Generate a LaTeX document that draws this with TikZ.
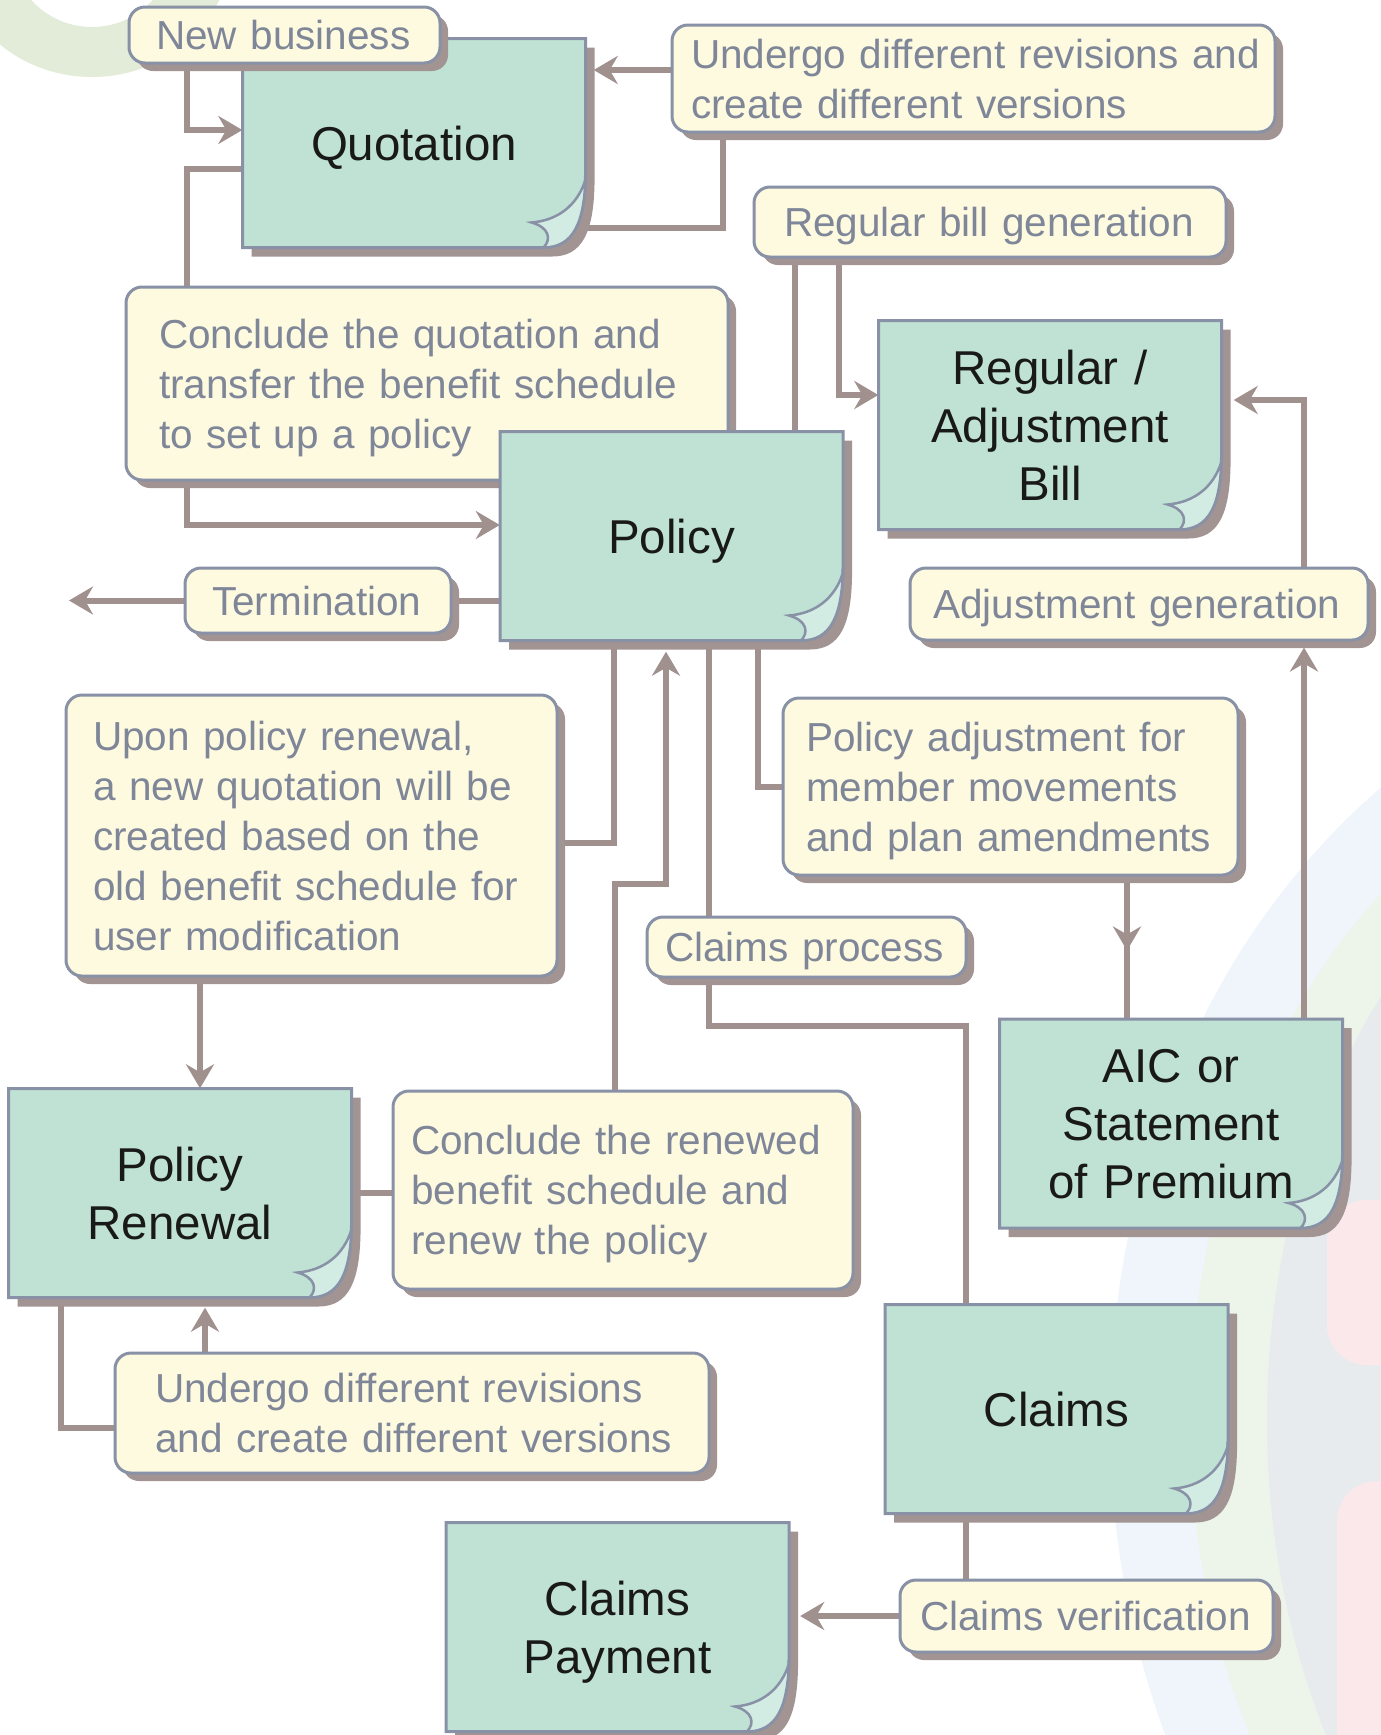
\documentclass[tikz,border=0pt]{standalone}
\usepackage{fontspec}
\setmainfont{Liberation Sans}
\usetikzlibrary{arrows.meta, calc, shadows, decorations.markings}
\definecolor{linec}{HTML}{A0918E}
\definecolor{shadowc}{HTML}{A29492}
\definecolor{edgec}{HTML}{8891A5}
\definecolor{notec}{HTML}{FDFAE0}
\definecolor{notetext}{HTML}{7E8698}
\definecolor{sheetc}{HTML}{BFE2D5}
\definecolor{curlc}{HTML}{D3ECE3}
\definecolor{ringc}{HTML}{E2ECD9}
\definecolor{skyc}{HTML}{EFF5FA}
\definecolor{mintc}{HTML}{EDF4EA}
\definecolor{greyc}{HTML}{E8EBEE}
\definecolor{pinkc}{HTML}{FBE8EB}
\pgfdeclarelayer{bg}
\pgfdeclarelayer{lines}
\pgfsetlayers{bg,lines,main}

\newcommand\sheet[3]{%
  \begin{scope}[shift={(#2)}]
    \fill[shadowc] (-162.5,-95.5) -- (180.5,-95.5) -- (180.5,41.5) .. controls (179.5,88.5) and (168.5,113.5) .. (138.5,113.5) -- (-162.5,113.5) -- cycle;
    \filldraw[fill=sheetc, draw=edgec, line width=3pt] (-171.5,-104.5) -- (171.5,-104.5) -- (171.5,32.5) .. controls (170.5,79.5) and (159.5,104.5) .. (129.5,104.5) -- (-171.5,104.5) -- cycle;
    \filldraw[fill=curlc, draw=edgec, line width=2.5pt] (171.5,32.5) .. controls (170.5,79.5) and (159.5,104.5) .. (129.5,104.5) .. controls (137.5,96.5) and (135.5,84.5) .. (117.5,79.5) .. controls (143.5,77.5) and (163.5,62.5) .. (171.5,36.5) -- cycle;
  \end{scope}
  \node[sheet] (#1) at (#2) {#3};
}

\begin{document}
\begin{tikzpicture}[x=1pt, y=-1pt, >={Stealth[length=24pt, width=28pt, inset=8pt]},
    flow/.style={linec, line width=6pt},
    note/.style={draw=edgec, line width=3pt, fill=notec, rounded corners=16pt, text=notetext, font=\fontsize{40.5}{50}\selectfont, align=left, inner sep=0pt, general shadow={fill=shadowc, shadow xshift=8pt, shadow yshift=-8pt}},
    wh/.style n args={3}{minimum width=#1pt, minimum height=#2pt, text width=#1pt, execute at begin node={\leftskip=#3pt\rule{0pt}{40pt}}, execute at end node={\rule[-11pt]{0pt}{0pt}}},
    sheet/.style={minimum width=343pt, minimum height=209pt, text width=343pt, inner sep=0pt, align=center, text=black!90, font=\fontsize{47.5}{58}\selectfont, execute at begin node={\rule{0pt}{46pt}}, execute at end node={\rule[-12pt]{0pt}{0pt}}}]
    \useasboundingbox (0,0) rectangle (1381,1735);

    \begin{pgfonlayer}{bg}
        \fill[ringc, even odd rule] (92,-55) ellipse (140pt and 132pt) (92,-55) circle (82pt);
        \fill[skyc] (1750,1420) ellipse (640pt and 774pt);
        \fill[mintc] (1750,1420) ellipse (560pt and 700pt);
        \fill[greyc] (1750,1420) ellipse (483pt and 657pt);
        \fill[pinkc, rounded corners=40pt] (1327,1200) rectangle (1440,1365);
        \fill[pinkc, rounded corners=40pt] (1337,1481) rectangle (1440,1790);
    \end{pgfonlayer}

    \node[note, wh={603}{107}{19}] (rev) at (973.5,78.5) {Undergo different revisions and\\create different versions};
    \node[note, wh={472}{70}{30}] (regbill) at (990,222) {Regular bill generation};
    \node[note, wh={602}{193}{33}] (conc) at (427,383.5) {Conclude the quotation and\\transfer the benefit schedule\\to set up a policy};
    \node[note, wh={266}{65}{27}] (term) at (318,600.5) {Termination};
    \node[note, wh={458}{72}{23}] (adjgen) at (1139,604) {Adjustment generation};
    \node[note, wh={491}{281}{27}] (renewal) at (311.5,835.5) {Upon policy renewal,\\a new quotation will be\\created based on the\\old benefit schedule for\\user modification};
    \node[note, wh={455}{177}{23}] (adjust) at (1010.5,786.5) {Policy adjustment for\\member movements\\and plan amendments};
    \node[note, wh={319}{60}{18}] (claimsproc) at (806.5,947) {Claims process};
    \node[note, wh={460}{198}{18}] (concren) at (623,1190) {Conclude the renewed\\benefit schedule and\\renew the policy};
    \node[note, wh={594}{120}{40}] (rev2) at (412,1413) {Undergo different revisions\\and create different versions};
    \node[note, wh={373}{72}{20}] (verify) at (1086.5,1616) {Claims verification};

    \sheet{quote}{414,143}{Quotation}
    \sheet{policy}{671.5,536}{Policy}
    \sheet{bill}{1050,425}{Regular /\\Adjustment\\Bill}
    \sheet{aic}{1171,1123.5}{AIC or\\Statement\\of Premium}
    \sheet{renew}{180,1193}{Policy\\Renewal}
    \sheet{claims}{1056.5,1409}{Claims}
    \sheet{pay}{617.5,1627}{Claims\\Payment}

    \node[note, wh={311}{56}{27}] (nb) at (284.5,35) {New business};
    \coordinate (out) at (69,600.5);

    \begin{pgfonlayer}{lines}
        \draw[flow, ->] (nb.south -| 187,0) |- ($(quote.west)+(0,-13)$);
        \draw[flow] ($(quote.west)+(0,26)$) -| (conc.north -| 187,0);
        \draw[flow, ->] (conc.south -| 187,0) |- ($(policy.west)+(0,-11)$);
        \draw[flow] ($(quote.east)+(0,85)$) -| (rev.south -| 723,0);
        \draw[flow, ->] ($(rev.west)+(0,-8.5)$) -- ($(quote.east |- 0,70)+(8,0)$);
        \draw[flow] (policy.north -| 795,0) -- (regbill.south -| 795,0);
        \draw[flow, ->] (regbill.south -| 839,0) |- ($(bill.west)+(0,-30)$);
        \draw[flow] (term.east -| policy.west) -- (term.east);
        \draw[flow, ->] (term.west) -- (out);
        \draw[flow, ->] (aic.north -| 1304,0) -- ($(adjgen.south -| 1304,0)+(0,6)$);
        \draw[flow, ->] (adjgen.north -| 1304,0) |- ($(bill.east)+(12,-25)$);
        \draw[flow] (policy.south -| 758,0) |- (adjust.west);
        \draw[flow, postaction={decorate, decoration={markings, mark=at position 0.52 with {\arrow{>}}}}] (adjust.south -| 1127,0) -- (aic.north -| 1127,0);
        \draw[flow] (policy.south -| 614,0) |- ($(renewal.east)+(0,7)$);
        \draw[flow, ->] (renewal.south -| 200,0) -- (renew.north -| 200,0);
        \draw[flow] (renew.east) -- (renew.east -| concren.west);
        \draw[flow, ->] (concren.north -| 615,0) -- ++(0,-206) -| ($(policy.south -| 666,0)+(0,11)$);
        \draw[flow] (policy.south -| 709,0) -- (claimsproc.north -| 709,0);
        \draw[flow] (claimsproc.south -| 709,0) -- ++(0,47) -| (claims.north -| 966,0);
        \draw[flow] (renew.south -| 61,0) |- ($(rev2.west)+(0,15)$);
        \draw[flow, ->] (rev2.north -| 205,0) -- ($(renew.south -| 205,0)+(0,10)$);
        \draw[flow] (claims.south -| 966,0) -- (verify.north -| 966,0);
        \draw[flow, ->] (verify.west) -- ($(verify.west -| pay.east)+(11,0)$);
    \end{pgfonlayer}
\end{tikzpicture}
\end{document}
